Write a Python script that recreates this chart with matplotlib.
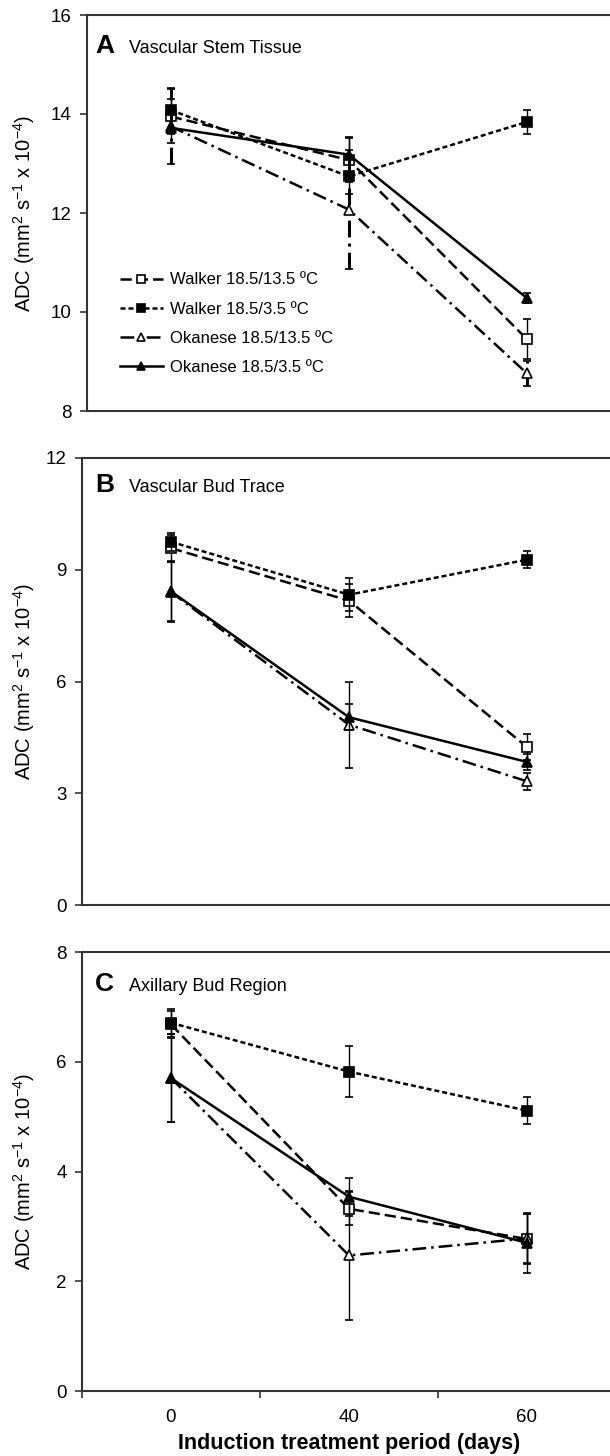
import matplotlib
matplotlib.use("Agg")
import matplotlib.pyplot as plt

plt.rcParams["font.family"] = ["Liberation Sans", "DejaVu Sans"]
plt.rcParams["mathtext.default"] = "regular"

days = ["0", "40", "60"]
xpos = [1, 2, 3]

series = ["Walker 18.5/13.5 ºC", "Walker 18.5/3.5 ºC",
          "Okanese 18.5/13.5 ºC", "Okanese 18.5/3.5 ºC"]

# panel A - vascular stem tissue
a_walker_135 = [13.95, 13.07, 9.45]
a_walker_35 = [14.08, 12.74, 13.84]
a_okanese_135 = [13.75, 12.07, 8.76]
a_okanese_35 = [13.72, 13.18, 10.28]
a_err = [[0.35, 0.45, 0.40], [0.45, 0.35, 0.25], [0.75, 1.20, 0.25], [0.30, 0.35, 0.10]]

# panel B - vascular bud trace
b_walker_135 = [9.58, 8.17, 4.24]
b_walker_35 = [9.75, 8.33, 9.27]
b_okanese_135 = [8.40, 4.84, 3.32]
b_okanese_35 = [8.42, 5.04, 3.84]
b_err = [[0.35, 0.45, 0.35], [0.25, 0.45, 0.22], [0.80, 1.15, 0.22], [0.80, 0.35, 0.22]]

# panel C - axillary bud region
c_walker_135 = [6.68, 3.32, 2.77]
c_walker_35 = [6.71, 5.82, 5.11]
c_okanese_135 = [5.70, 2.47, 2.78]
c_okanese_35 = [5.70, 3.54, 2.70]
c_err = [[0.25, 0.30, 0.45], [0.25, 0.47, 0.25], [0.80, 1.18, 0.45], [0.80, 0.35, 0.55]]

styles = [
    dict(ls=(0, (4.5, 2)), marker="s", mfc="white"),
    dict(ls=(0, (2, 1.2)), marker="s", mfc="black"),
    dict(ls=(0, (5.5, 2, 1, 2)), marker="^", mfc="white"),
    dict(ls="-", marker="^", mfc="black"),
]

W, H = 610, 1456
fig = plt.figure(figsize=(W / 100, H / 100), dpi=100)


def px_axes(left, top, right, bottom):
    return fig.add_axes([left / W, 1 - bottom / H, (right - left) / W, (bottom - top) / H])


def draw(ax, data, errs, ylim, yticks, thick_dashdot=False):
    for i, (vals, e, st) in enumerate(zip(data, errs, styles)):
        ec = ax.errorbar(xpos, vals, yerr=e, color="black", lw=1.8, ls=st["ls"],
                         marker=st["marker"], ms=7, mfc=st["mfc"], mec="black", mew=1.2,
                         capsize=3, elinewidth=1, capthick=1, zorder=3 + i)
        if thick_dashdot and i == 2:
            ec[2][0].set_linewidth(2.2)
            ec[2][0].set_linestyle((0, (5.5, 2, 1, 2)))
    ax.set_ylim(*ylim)
    ax.set_yticks(yticks)
    ax.set_yticklabels([str(t) for t in yticks], fontsize=13.5)
    ax.set_xticks(xpos)
    ax.set_xticks([0.5, 1.5, 2.5, 3.5], minor=True)
    ax.tick_params(axis="y", direction="out", length=5, width=1.2, color="#333333", pad=6)
    for sp in ax.spines.values():
        sp.set_color("#333333")
        sp.set_linewidth(1.5)


axA = px_axes(87, 15, 616, 411)
draw(axA, [a_walker_135, a_walker_35, a_okanese_135, a_okanese_35], a_err,
     (8, 16), [8, 10, 12, 14, 16], thick_dashdot=True)
axA.set_xlim(0.53, 3.5)

axB = px_axes(82, 458, 616, 905)
draw(axB, [b_walker_135, b_walker_35, b_okanese_135, b_okanese_35], b_err,
     (0, 12), [0, 3, 6, 9, 12])
axB.set_xlim(0.5, 3.5)

axC = px_axes(82, 952, 616, 1391)
draw(axC, [c_walker_135, c_walker_35, c_okanese_135, c_okanese_35], c_err,
     (0, 8), [0, 2, 4, 6, 8])
axC.set_xlim(0.5, 3.5)

for ax in (axA, axB):
    ax.tick_params(axis="x", which="both", length=0, labelbottom=False)

axC.set_xticklabels(days, fontsize=13.5)
axC.tick_params(axis="x", which="major", length=0, pad=13)
axC.tick_params(axis="x", which="minor", direction="out", length=5, width=1.2, color="#333333")
axC.set_xlabel("Induction treatment period (days)", fontsize=15.5, fontweight="bold", labelpad=5)

ylab = "ADC (mm$^{2}$ s$^{-1}$ x 10$^{-4}$)"
for ax, left in ((axA, 87), (axB, 82), (axC, 82)):
    ax.set_ylabel(ylab, fontsize=14.5)
    ax.yaxis.set_label_coords((37 - left) / (616 - left), 0.5)

# panel letters and titles
for letter, title, base in (("A", "Vascular Stem Tissue", 53),
                            ("B", "Vascular Bud Trace", 492),
                            ("C", "Axillary Bud Region", 991)):
    fig.text(95 / W, 1 - base / H, letter, fontsize=19, fontweight="bold", va="baseline")
    fig.text(129 / W, 1 - base / H, title, fontsize=13, va="baseline")

handles = [c[0] for c in axA.containers]
axA.legend(handles, series, loc="upper left", bbox_to_anchor=(0.062, 0.35),
           frameon=False, fontsize=12, handlelength=2.6, handletextpad=0.4,
           labelspacing=0.85, borderpad=0, borderaxespad=0, markerscale=0.9)

fig.savefig("out.png", dpi=100)
